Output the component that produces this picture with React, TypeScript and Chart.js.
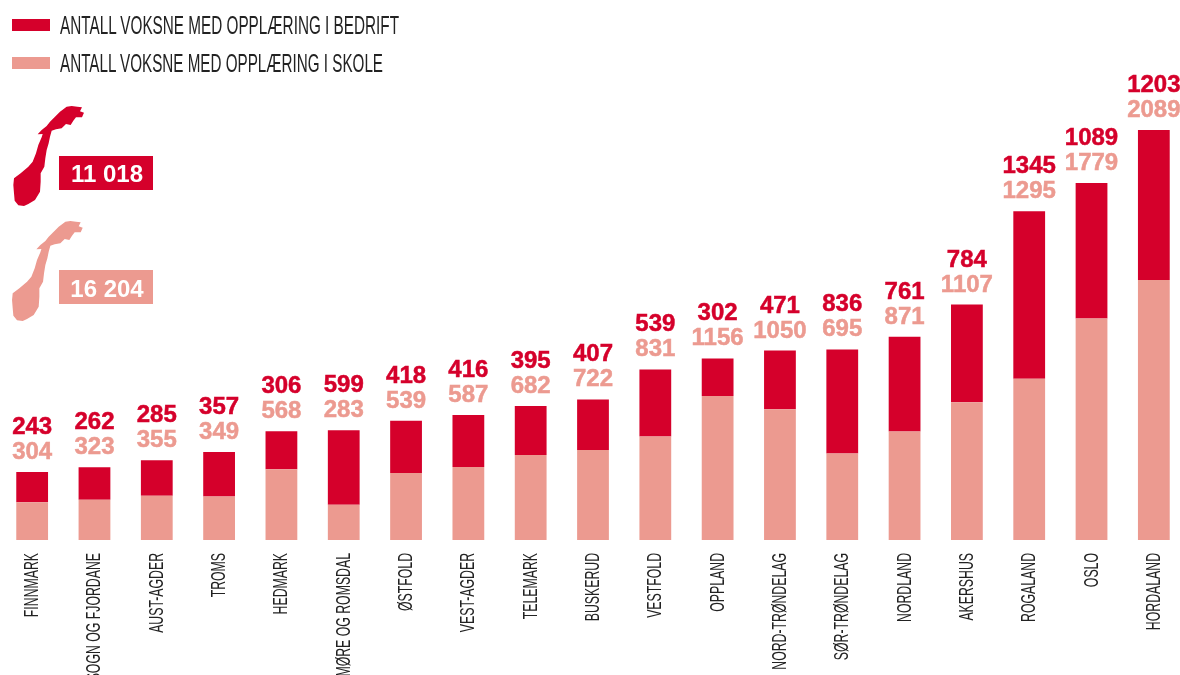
import React, { useEffect, useRef } from "react";
import { Chart, registerables } from "chart.js";

Chart.register(...registerables);

const categories = ["FINNMARK","SOGN OG FJORDANE","AUST-AGDER","TROMS","HEDMARK","MØRE OG ROMSDAL","ØSTFOLD","VEST-AGDER","TELEMARK","BUSKERUD","VESTFOLD","OPPLAND","NORD-TRØNDELAG","SØR-TRØNDELAG","NORDLAND","AKERSHUS","ROGALAND","OSLO","HORDALAND"];
const bedrift = [243,262,285,357,306,599,418,416,395,407,539,302,471,836,761,784,1345,1089,1203];
const skole = [304,323,355,349,568,283,539,587,682,722,831,1156,1050,695,871,1107,1295,1779,2089];
const legendBedrift = "ANTALL VOKSNE MED OPPLÆRING I BEDRIFT";
const legendSkole = "ANTALL VOKSNE MED OPPLÆRING I SKOLE";
const totalBedrift = "11 018";
const totalSkole = "16 204";

const RED = "#D5002B";
const PINK = "#EC9A90";
const NARROW = '"Liberation Sans Narrow", "Liberation Sans", sans-serif';
const BOLD = '"Liberation Sans", Arial, sans-serif';

const NORWAY = "M200 320L215 318L232 320L246 322L240 334L252 338L246 352L228 352L220 362L212 375L198 372L185 385L168 388L155 392L150 410L146 430L140 450L136 475L133 500L122 520L122 545L120 575L105 600L85 612L72 618L55 616L44 602L42 580L40 555L42 535L62 520L85 500L98 485L108 460L115 435L125 412L128 402L113 403L125 390L140 378L150 365L165 350L180 335Z";

const overlayPlugin = {
  id: "overlayText",
  afterDatasetsDraw(chart: any) {
    const { ctx } = chart;
    const top = chart.getDatasetMeta(1).data;
    ctx.save();
    ctx.textAlign = "center";
    ctx.textBaseline = "alphabetic";
    ctx.font = `bold 24px ${BOLD}`;
    ctx.lineWidth = 0.5;
    top.forEach((bar: any, i: number) => {
      ctx.fillStyle = PINK;
      ctx.strokeStyle = PINK;
      ctx.fillText(String(skole[i]), bar.x, bar.y - 13);
      ctx.strokeText(String(skole[i]), bar.x, bar.y - 13);
      ctx.fillStyle = RED;
      ctx.strokeStyle = RED;
      ctx.fillText(String(bedrift[i]), bar.x, bar.y - 38);
      ctx.strokeText(String(bedrift[i]), bar.x, bar.y - 38);
    });
    ctx.restore();

    const xs = chart.scales.x;
    categories.forEach((label, i) => {
      ctx.save();
      ctx.translate(xs.getPixelForTick(i) + 6, chart.chartArea.bottom + 13);
      ctx.rotate(-Math.PI / 2);
      ctx.scale(0.585, 1);
      ctx.font = `21px ${NARROW}`;
      ctx.textAlign = "right";
      ctx.textBaseline = "alphabetic";
      ctx.fillStyle = "#222";
      ctx.fillText(label, 0, 0);
      ctx.restore();
    });
  },
};

export default function App() {
  const ref = useRef<HTMLCanvasElement | null>(null);
  useEffect(() => {
    document.body.style.margin = "0";
    document.body.style.overflow = "hidden";
    const chart = new Chart(ref.current as HTMLCanvasElement, {
      type: "bar",
      data: {
        labels: categories,
        datasets: [
          { label: legendSkole, data: skole, backgroundColor: PINK, stack: "a", barPercentage: 1, categoryPercentage: 0.51 },
          { label: legendBedrift, data: bedrift, backgroundColor: RED, stack: "a", barPercentage: 1, categoryPercentage: 0.51 },
        ],
      },
      options: {
        responsive: false,
        animation: false,
        layout: { padding: { left: 1, right: 5, top: 0, bottom: 127 } },
        plugins: { legend: { display: false }, tooltip: { enabled: false } },
        scales: {
          x: { stacked: true, grid: { display: false }, border: { display: false }, ticks: { display: false } },
          y: { stacked: true, display: false, min: 0, max: 4337 },
        },
      },
      plugins: [overlayPlugin],
    } as any);
    return () => chart.destroy();
  }, []);

  return (
    <div style={{ position: "fixed", left: 0, top: 0, width: 1180, height: 675, overflow: "hidden", background: "#fff", filter: "blur(0.4px)" }}>
      <canvas ref={ref} width={1190} height={675} style={{ position: "absolute", left: 0, top: 0 }} />
      <svg width={1180} height={675} style={{ position: "absolute", left: 0, top: 0, pointerEvents: "none" }}>
        <rect x={12} y={19} width={38} height={12} fill={RED} />
        <rect x={12} y={57} width={38} height={12} fill={PINK} />
        <text x={60} y={34} textLength={339} lengthAdjust="spacingAndGlyphs" fontFamily={NARROW} fontSize={26} fill="#222">{legendBedrift}</text>
        <text x={60} y={72} textLength={323} lengthAdjust="spacingAndGlyphs" fontFamily={NARROW} fontSize={26} fill="#222">{legendSkole}</text>
        <path d={NORWAY} transform="scale(0.3333)" fill={RED} />
        <path d={NORWAY} transform="translate(-1.3 115) scale(0.3333)" fill={PINK} />
        <rect x={59} y={156} width={94} height={34} fill={RED} />
        <rect x={59} y={270} width={94} height={34} fill={PINK} />
        <text x={107} y={182} textAnchor="middle" fontFamily={BOLD} fontWeight="bold" fontSize={24} fill="#fff">{totalBedrift}</text>
        <text x={107} y={297} textAnchor="middle" fontFamily={BOLD} fontWeight="bold" fontSize={24} fill="#fff">{totalSkole}</text>
      </svg>
    </div>
  );
}
